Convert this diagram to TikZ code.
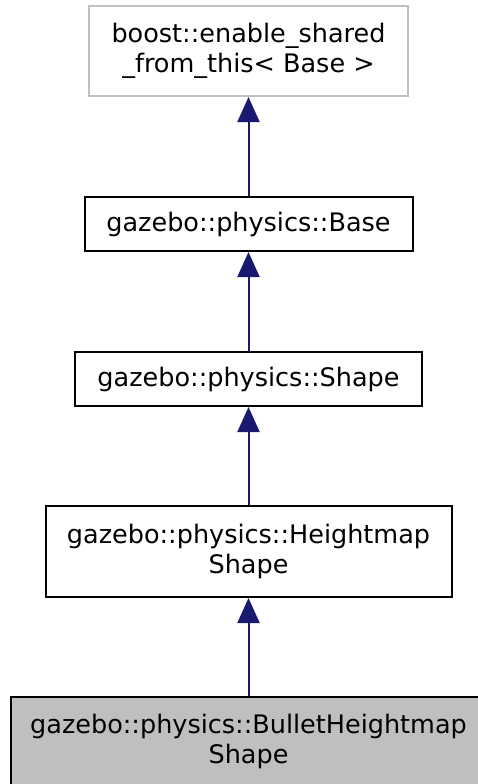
\documentclass[tikz,border=0pt]{standalone}
\usepackage{fontspec}
\setmainfont{DejaVu Sans}
\usetikzlibrary{arrows.meta}
\definecolor{edgeblue}{RGB}{25,25,112}
\definecolor{boxgray}{RGB}{191,191,191}
\begin{document}
\begin{tikzpicture}[x=1pt,y=-1pt,
  cls/.style={draw=black, line width=2pt, fill=white, inner sep=0pt, align=center,
    font=\fontsize{25.5}{30}\selectfont},
  extcls/.style={cls, draw=boxgray},
  curcls/.style={cls, fill=boxgray},
  inherit/.style={draw=edgeblue, line width=2pt,
    -{Triangle[length=25pt,width=22pt,fill=edgeblue]}}]
\useasboundingbox (0,0) rectangle (478,784);
\node[extcls, minimum width=319pt, minimum height=90pt] (b1) at (248.5,51)
  {boost::enable\_shared\\\_from\_this< Base >};
\node[cls, minimum width=328pt, minimum height=54pt] (b2) at (248.5,224)
  {gazebo::physics::Base};
\node[cls, minimum width=347pt, minimum height=54pt] (b3) at (248.5,379)
  {gazebo::physics::Shape};
\node[cls, minimum width=406pt, minimum height=91pt] (b4) at (248.5,551.5)
  {gazebo::physics::Heightmap\\Shape};
\node[curcls, minimum width=476pt, minimum height=88pt] (b5) at (248.5,741)
  {gazebo::physics::BulletHeightmap\\Shape};
\draw[inherit] (b2.north) -- (b1.south);
\draw[inherit] (b3.north) -- (b2.south);
\draw[inherit] (b4.north) -- (b3.south);
\draw[inherit] (b5.north) -- (b4.south);
\end{tikzpicture}
\end{document}
